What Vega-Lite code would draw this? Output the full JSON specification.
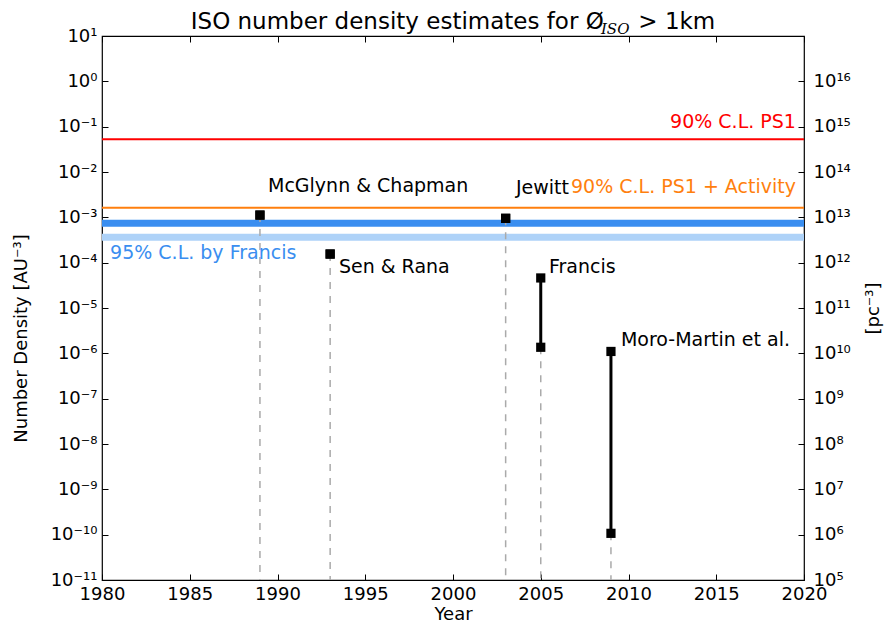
{
  "$schema": "https://vega.github.io/schema/vega-lite/v6.json",
  "width": 702,
  "height": 544,
  "autosize": "none",
  "padding": {"left": 102, "top": 36, "right": 81, "bottom": 45},
  "background": "white",
  "config": {
    "font": "DejaVu Sans",
    "view": {"stroke": "black", "strokeWidth": 1.2},
    "axis": {
      "labelFont": "DejaVu Sans", "labelFontSize": 18, "labelColor": "black",
      "titleFont": "DejaVu Sans", "titleFontSize": 18, "titleFontWeight": "normal", "titleColor": "black",
      "tickColor": "black", "tickSize": -6, "tickWidth": 1, "grid": false, "domain": false, "labelFlush": false
    }
  },
  "title": {
    "text": "ISO number density estimates for Ø\u2002\u2002\u2002> 1km",
    "fontSize": 23, "fontWeight": "normal", "font": "DejaVu Sans", "color": "black", "anchor": "middle", "offset": -12
  },
  "datasets": {
    "limits": [
      {"kind": "PS1", "density": 0.053},
      {"kind": "PS1 + Activity", "density": 0.00162}
    ],
    "bands": [
      {"kind": "Francis upper", "density": 0.00074},
      {"kind": "Francis lower", "density": 0.000365}
    ],
    "estimates": [
      {"study": "McGlynn & Chapman", "year": 1989, "lo": 0.00112, "hi": 0.00112},
      {"study": "Sen & Rana", "year": 1993, "lo": 0.000155, "hi": 0.000155},
      {"study": "Jewitt", "year": 2003, "lo": 0.00095, "hi": 0.00095},
      {"study": "Francis", "year": 2005, "lo": 1.36e-6, "hi": 4.6e-5},
      {"study": "Moro-Martin et al.", "year": 2009, "lo": 1.07e-10, "hi": 1.1e-6}
    ],
    "labels": [
      {"text": "McGlynn & Chapman", "kind": "study", "year": 1989.46, "density": 0.0048},
      {"text": "Jewitt", "kind": "study", "year": 2003.59, "density": 0.00443},
      {"text": "Sen & Rana", "kind": "study", "year": 1993.5, "density": 8.0e-5},
      {"text": "Francis", "kind": "study", "year": 2005.47, "density": 8.0e-5},
      {"text": "Moro-Martin et al.", "kind": "study", "year": 2009.57, "density": 1.97e-6},
      {"text": "95% C.L. by Francis", "kind": "Francis label", "year": 1980.46, "density": 0.000163}
    ],
    "limitLabels": [
      {"text": "90% C.L. PS1", "kind": "PS1", "year": 2019.54, "density": 0.127},
      {"text": "90% C.L. PS1 + Activity", "kind": "PS1 + Activity", "year": 2019.54, "density": 0.00467}
    ],
    "sub": [
      {"text": "ISO", "year": 2008.43, "density": 14.0}
    ],
    "frame": [
      {"year": 1980, "density": 1e-11},
      {"year": 2020, "density": 10}
    ]
  },
  "layer": [
    {
      "data": {"name": "bands"},
      "mark": {"type": "rule", "strokeWidth": 7},
      "encoding": {
        "y": {"field": "density", "type": "quantitative",
          "scale": {"type": "log", "domain": [1e-11, 10], "nice": false},
          "axis": {
            "orient": "left",
            "values": [1e-11, 1e-10, 1e-9, 1e-8, 1e-7, 1e-6, 1e-5, 1e-4, 1e-3, 1e-2, 1e-1, 1, 10],
            "labelExpr": "'10' + (round(log(datum.value)/LN10) < 0 ? '⁻' : '') + (abs(round(log(datum.value)/LN10)) >= 10 ? substring('⁰¹²³⁴⁵⁶⁷⁸⁹', floor(abs(round(log(datum.value)/LN10))/10), floor(abs(round(log(datum.value)/LN10))/10) + 1) : '') + substring('⁰¹²³⁴⁵⁶⁷⁸⁹', abs(round(log(datum.value)/LN10)) % 10, abs(round(log(datum.value)/LN10)) % 10 + 1)",
            "labelPadding": 11,
            "title": "Number Density [AU⁻³]",
            "titlePadding": 20,
            "titleY": 302
          }
        },
        "color": {"field": "kind", "type": "nominal",
          "scale": {"domain": ["PS1", "PS1 + Activity", "Francis upper", "Francis lower", "study", "Francis label"], "range": ["#ff0000", "#ff7f0e", "#3a8ef0", "#aed2f8", "#000000", "#3a8ef0"]},
          "legend": null}
      }
    },
    {
      "data": {"name": "estimates"},
      "mark": {"type": "rule", "color": "#aaaaaa", "strokeWidth": 1.5, "strokeDash": [7, 7]},
      "encoding": {
        "x": {"field": "year", "type": "quantitative",
          "scale": {"domain": [1980, 2020], "nice": false, "zero": false},
          "axis": {
            "orient": "bottom",
            "values": [1980, 1985, 1990, 1995, 2000, 2005, 2010, 2015, 2020],
            "format": "d",
            "labelPadding": 11,
            "title": "Year",
            "titlePadding": 2
          }
        },
        "y": {"field": "lo", "type": "quantitative", "axis": null},
        "y2": {"datum": 1e-11}
      }
    },
    {
      "data": {"name": "limits"},
      "mark": {"type": "rule", "strokeWidth": 2},
      "encoding": {
        "y": {"field": "density", "type": "quantitative", "axis": null},
        "color": {"field": "kind", "type": "nominal", "legend": null}
      }
    },
    {
      "data": {"name": "estimates"},
      "mark": {"type": "rule", "color": "black", "strokeWidth": 3},
      "encoding": {
        "x": {"field": "year", "type": "quantitative", "axis": null},
        "y": {"field": "lo", "type": "quantitative", "axis": null},
        "y2": {"field": "hi"}
      }
    },
    {
      "data": {"name": "estimates"},
      "mark": {"type": "point", "shape": "square", "filled": true, "color": "black", "size": 85, "opacity": 1},
      "encoding": {
        "x": {"field": "year", "type": "quantitative", "axis": null},
        "y": {"field": "lo", "type": "quantitative", "axis": null}
      }
    },
    {
      "data": {"name": "estimates"},
      "mark": {"type": "point", "shape": "square", "filled": true, "color": "black", "size": 85, "opacity": 1},
      "encoding": {
        "x": {"field": "year", "type": "quantitative", "axis": null},
        "y": {"field": "hi", "type": "quantitative", "axis": null}
      }
    },
    {
      "data": {"name": "labels"},
      "mark": {"type": "text", "align": "left", "baseline": "middle", "fontSize": 19, "font": "DejaVu Sans"},
      "encoding": {
        "x": {"field": "year", "type": "quantitative", "axis": null},
        "y": {"field": "density", "type": "quantitative", "axis": null},
        "text": {"field": "text"},
        "color": {"field": "kind", "type": "nominal", "legend": null}
      }
    },
    {
      "data": {"name": "limitLabels"},
      "mark": {"type": "text", "align": "right", "baseline": "middle", "fontSize": 19, "font": "DejaVu Sans"},
      "encoding": {
        "x": {"field": "year", "type": "quantitative", "axis": null},
        "y": {"field": "density", "type": "quantitative", "axis": null},
        "text": {"field": "text"},
        "color": {"field": "kind", "type": "nominal", "legend": null}
      }
    },
    {
      "data": {"name": "sub"},
      "mark": {"type": "text", "align": "left", "baseline": "middle", "fontSize": 15, "font": "DejaVu Serif", "fontStyle": "italic", "color": "black", "clip": false},
      "encoding": {
        "x": {"field": "year", "type": "quantitative", "axis": null},
        "y": {"field": "density", "type": "quantitative", "axis": null},
        "text": {"field": "text"}
      }
    },
    {
      "data": {"name": "frame"},
      "mark": {"type": "point", "opacity": 0, "size": 1},
      "encoding": {
        "x": {"field": "year", "type": "quantitative",
          "axis": {"orient": "top", "values": [1980, 1985, 1990, 1995, 2000, 2005, 2010, 2015, 2020], "labels": false, "title": null}
        },
        "y": {"field": "density", "type": "quantitative",
          "axis": {
            "orient": "right",
            "values": [1e-11, 1e-10, 1e-9, 1e-8, 1e-7, 1e-6, 1e-5, 1e-4, 1e-3, 1e-2, 1e-1, 1],
            "labelExpr": "'10' + (round(log(datum.value)/LN10) + 16 >= 10 ? substring('⁰¹²³⁴⁵⁶⁷⁸⁹', floor((round(log(datum.value)/LN10) + 16)/10), floor((round(log(datum.value)/LN10) + 16)/10) + 1) : '') + substring('⁰¹²³⁴⁵⁶⁷⁸⁹', (round(log(datum.value)/LN10) + 16) % 10, (round(log(datum.value)/LN10) + 16) % 10 + 1)",
            "labelPadding": 15,
            "title": "[pc⁻³]",
            "titleAngle": -90,
            "titlePadding": 32
          }
        }
      }
    }
  ],
  "resolve": {"axis": {"x": "independent", "y": "independent"}}
}
